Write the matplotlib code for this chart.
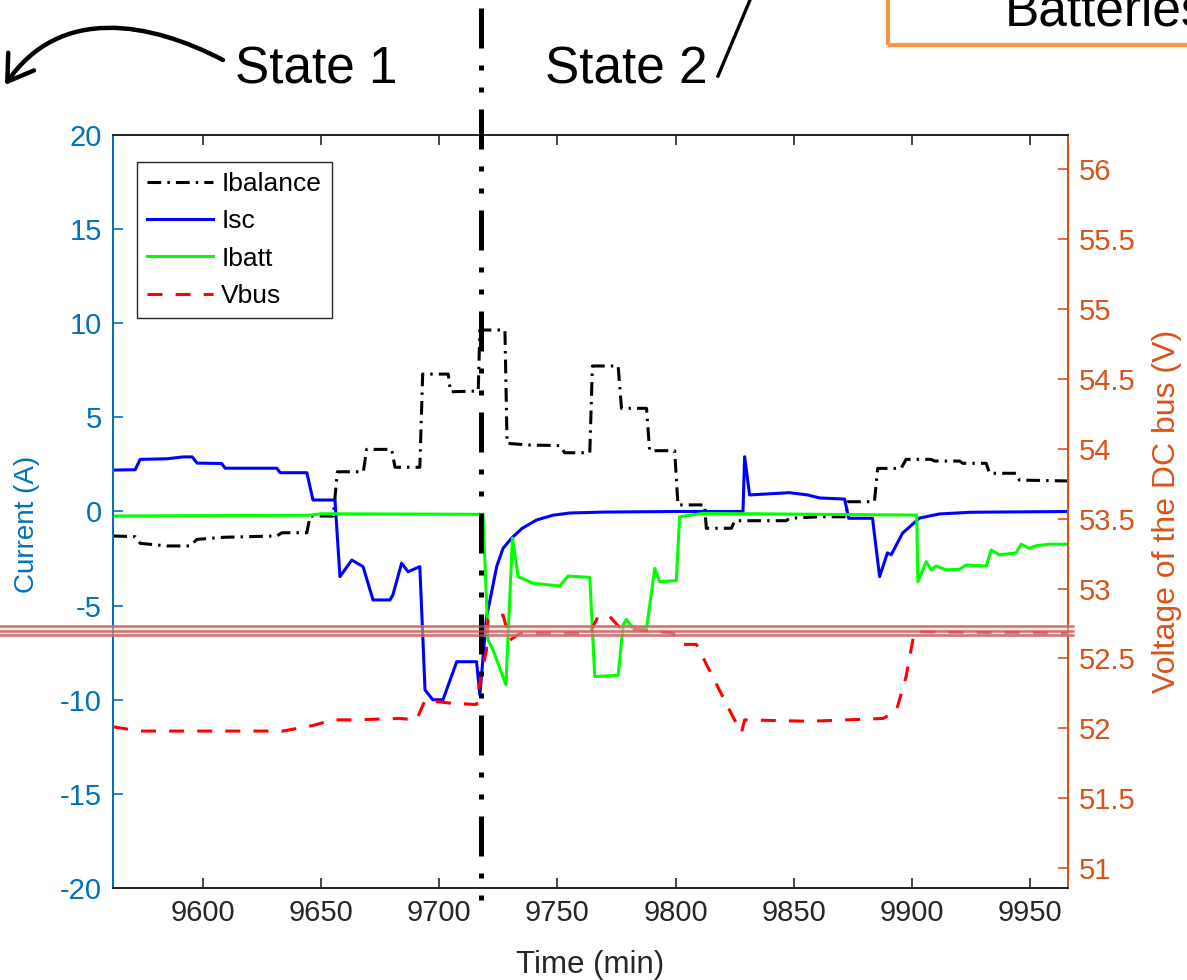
import matplotlib
matplotlib.use("Agg")
import matplotlib.pyplot as plt
from matplotlib.path import Path
from matplotlib.patches import FancyArrowPatch, Rectangle
from matplotlib.lines import Line2D
from matplotlib import transforms

plt.rcParams['font.family'] = ['Liberation Sans', 'DejaVu Sans']
plt.rcParams['axes.unicode_minus'] = False

# Ibalance (A), step profile
t_balance = [9562.1, 9571.4, 9573.5, 9584.8, 9594.6, 9597.5, 9608.7, 9631.3, 9633.4, 9644.0,
             9645.4, 9655.2, 9656.9, 9667.9, 9669.3, 9679.9, 9681.3, 9691.8, 9693.0, 9703.8,
             9704.8, 9716.5, 9717.2, 9727.8, 9728.7, 9738.3, 9751.0, 9753.1, 9763.7, 9764.8,
             9775.7, 9777.1, 9787.7, 9789.0, 9799.6, 9801.0, 9812.3, 9813.0, 9823.6, 9825.0,
             9846.8, 9848.2, 9860.9, 9872.0, 9872.9, 9884.1, 9885.5, 9895.4, 9897.5, 9908.1,
             9909.5, 9920.1, 9921.5, 9931.4, 9932.8, 9944.0, 9945.4, 9966.6]
i_balance = [-1.30, -1.34, -1.69, -1.83, -1.83, -1.48, -1.37, -1.30, -1.13, -1.13,
             -0.24, -0.24, 2.11, 2.11, 3.30, 3.30, 2.35, 2.35, 7.30, 7.30,
             6.36, 6.40, 9.64, 9.64, 3.62, 3.53, 3.50, 3.12, 3.12, 7.73,
             7.73, 5.48, 5.48, 3.23, 3.23, 0.35, 0.35, -0.89, -0.89, -0.49,
             -0.49, -0.36, -0.28, -0.28, 0.52, 0.52, 2.29, 2.29, 2.77, 2.77,
             2.68, 2.68, 2.56, 2.56, 2.03, 2.03, 1.67, 1.62]

# Isc (A)
t_sc = [9562.1, 9571.4, 9573.5, 9584.8, 9591.7, 9595.5, 9597.6, 9608.0, 9609.4, 9631.3,
        9632.7, 9644.0, 9646.6, 9655.9, 9658.0, 9663.0, 9667.8, 9672.0, 9679.2, 9680.4,
        9684.1, 9686.8, 9691.8, 9694.0, 9697.3, 9701.6, 9707.4, 9715.8, 9717.2, 9720.0,
        9721.5, 9724.3, 9727.0, 9730.6, 9735.0, 9741.2, 9748.0, 9755.2, 9770.0, 9800.0,
        9828.5, 9829.2, 9831.3, 9848.2, 9855.8, 9860.9, 9871.5, 9873.2, 9883.3, 9886.3,
        9889.6, 9891.2, 9896.0, 9903.2, 9911.6, 9925.0, 9966.6]
i_sc = [2.20, 2.22, 2.77, 2.80, 2.90, 2.90, 2.57, 2.55, 2.30, 2.30,
        2.06, 2.06, 0.61, 0.61, -3.46, -2.58, -2.93, -4.70, -4.70, -4.43,
        -2.74, -3.20, -2.93, -9.48, -10.0, -10.0, -7.98, -7.98, -9.75, -5.60,
        -4.70, -2.93, -1.96, -1.42, -0.90, -0.45, -0.20, -0.08, -0.03, 0.0,
        0.0, 2.91, 0.88, 1.00, 0.88, 0.72, 0.66, -0.36, -0.36, -3.46,
        -2.20, -2.30, -1.15, -0.35, -0.13, -0.04, 0.0]

# Ibatt (A)
t_batt = [9562.1, 9645.0, 9650.0, 9718.5, 9720.7, 9722.8, 9728.2, 9731.0, 9733.4, 9739.7,
          9751.0, 9754.5, 9763.7, 9765.8, 9775.7, 9777.8, 9779.2, 9782.0, 9787.7, 9791.2,
          9793.3, 9800.3, 9801.7, 9811.5, 9902.0, 9902.5, 9906.0, 9908.1, 9910.2, 9914.5,
          9920.1, 9922.9, 9931.4, 9933.5, 9937.0, 9944.0, 9946.2, 9949.7, 9952.5, 9958.1,
          9966.6]
i_batt = [-0.24, -0.20, -0.12, -0.15, -6.83, -7.36, -9.20, -1.41, -3.46, -3.81,
          -3.96, -3.43, -3.50, -8.77, -8.70, -6.03, -5.73, -6.20, -6.20, -3.02,
          -3.73, -3.67, -0.28, -0.10, -0.19, -3.73, -2.67, -3.10, -2.90, -3.10,
          -3.07, -2.84, -2.90, -2.05, -2.30, -2.20, -1.74, -1.96, -1.82, -1.74,
          -1.74]

# Vbus (V), right axis
t_bus = [9562.1, 9573.5, 9633.9, 9646.6, 9655.2, 9663.5, 9683.4, 9690.4, 9694.0, 9704.5,
         9715.8, 9717.6, 9720.0, 9720.7, 9727.0, 9729.9, 9734.1, 9763.7, 9767.2, 9772.1,
         9776.4, 9798.9, 9803.1, 9808.8, 9824.3, 9827.9, 9829.2, 9856.7, 9872.2, 9887.7,
         9893.3, 9897.5, 9901.0, 9966.6]
v_bus = [52.01, 51.98, 51.98, 52.02, 52.06, 52.06, 52.07, 52.06, 52.20, 52.18,
         52.17, 52.37, 52.56, 52.78, 52.81, 52.63, 52.68, 52.68, 52.80, 52.80,
         52.72, 52.68, 52.60, 52.60, 52.08, 51.97, 52.06, 52.05, 52.06, 52.07,
         52.12, 52.37, 52.69, 52.68]

state_time = 9717.6

blue_ax = "#0072BD"
orange_ax = "#D95319"
dark = "#262626"

W, H = 1187, 980
def fx(px): return px / W
def fy(py): return 1 - py / H

fig = plt.figure(figsize=(11.87, 9.8), dpi=100)
ax = fig.add_axes([fx(113), fy(888), 955 / W, 753 / H])
ax2 = ax.twinx()

l1, = ax.plot(t_balance, i_balance, color="black", lw=2.2, linestyle=(0, (4.5, 2, 0.8, 2)), label="Ibalance")
l2, = ax.plot(t_sc, i_sc, color="#0000FF", lw=2.2, label="Isc")
l3, = ax.plot(t_batt, i_batt, color="#00FF00", lw=2.2, label="Ibatt")
l4, = ax2.plot(t_bus, v_bus, color="#FF0000", lw=2.2, linestyle=(0, (4.9, 4.3)), label="Vbus")

ax.set_xlim(9562, 9966)
ax.set_ylim(-20, 20)
ax2.set_ylim(50.857, 56.245)
ax.set_xticks(range(9600, 9951, 50))
ax.set_yticks(range(-20, 21, 5))
ax2.set_yticks([51, 51.5, 52, 52.5, 53, 53.5, 54, 54.5, 55, 55.5, 56])
ax2.set_yticklabels(["51", "51.5", "52", "52.5", "53", "53.5", "54", "54.5", "55", "55.5", "56"])

ax.tick_params(axis="x", direction="in", length=7, width=1.2, top=True, colors=dark,
               labelsize=21, pad=8)
ax.tick_params(axis="y", direction="in", length=7, width=1.2, colors=blue_ax, labelsize=21, pad=8)
ax2.tick_params(axis="y", direction="in", length=7, width=1.2, colors=orange_ax, labelsize=21, pad=8)

for a in (ax, ax2):
    for s in a.spines.values():
        s.set_linewidth(1.4)
    a.spines["left"].set_color(blue_ax)
    a.spines["right"].set_color(orange_ax)
    a.spines["top"].set_color(dark)
    a.spines["bottom"].set_color(dark)

ax.set_xlabel("Time (min)", fontsize=22.5, color=dark)
ax.set_ylabel("Current (A)", fontsize=20, color=blue_ax)
ax2.set_ylabel("Voltage of the DC bus (V)", fontsize=23, color=orange_ax)
ax.xaxis.set_label_coords(0.5, -0.083)
ax.yaxis.set_label_coords(-0.076, 0.483)
ax2.yaxis.set_label_coords(1.088, 0.5)

leg = ax2.legend(handles=[l1, l2, l3, l4], loc="upper left", bbox_to_anchor=(0.0248, 0.9645),
                 borderaxespad=0, fontsize=19, fancybox=False, framealpha=1, edgecolor=dark,
                 handlelength=2.5, handletextpad=0.3, labelspacing=0.5, borderpad=0.4)
leg.get_frame().set_linewidth(1.0)

# annotations drawn over the figure
blend = transforms.blended_transform_factory(ax.transData, fig.transFigure)
fig.add_artist(Line2D([state_time, state_time], [fy(8), fy(905)], transform=blend, color="black",
                      lw=3.6, linestyle=(0, (8, 3.4, 1, 3.4, 1, 3.4)), clip_on=False))

fig.text(fx(235), fy(83), "State 1", fontsize=37, va="baseline", ha="left")
fig.text(fx(545), fy(83), "State 2", fontsize=37, va="baseline", ha="left")
fig.text(fx(1005), fy(25), "Batteries", fontsize=37, va="baseline", ha="left")
fig.add_artist(Rectangle((fx(888), fy(45)), fx(400), fy(-50) - fy(45), transform=fig.transFigure,
                         fill=False, edgecolor="#F79646", lw=3))

verts = [(fx(223), fy(60)), (fx(150), fy(22)), (fx(60), fy(5)), (fx(5), fy(85))]
arc = Path(verts, [Path.MOVETO, Path.CURVE4, Path.CURVE4, Path.CURVE4])
fig.add_artist(FancyArrowPatch(path=arc, arrowstyle="->,head_length=0.7,head_width=0.45",
                               mutation_scale=25, lw=3.2, color="black", transform=fig.transFigure))
fig.add_artist(Line2D([fx(718), fx(750)], [fy(76), fy(0)], transform=fig.transFigure,
                      color="black", lw=2.4))

# highlighted band across the plot
fig.add_artist(Rectangle((0, fy(637)), fx(1073), fy(625) - fy(637), transform=fig.transFigure,
                         facecolor="#e9cfcf", edgecolor="none", alpha=0.55))
for yb in (626.5, 631, 635.5):
    fig.add_artist(Line2D([0, fx(1073)], [fy(yb), fy(yb)], transform=fig.transFigure,
                          color="#c0504d", lw=1.8, alpha=0.75))

fig.savefig("out.png", dpi=100)
